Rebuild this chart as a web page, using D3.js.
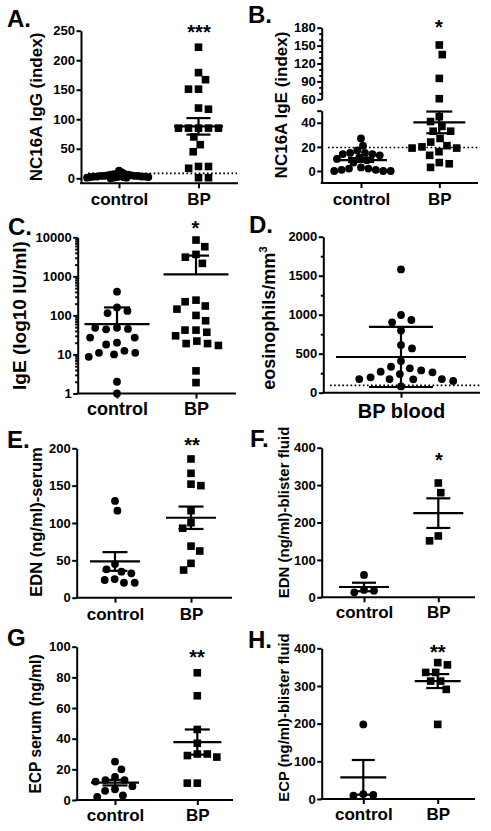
<!DOCTYPE html>
<html><head><meta charset="utf-8">
<script src="https://cdn.jsdelivr.net/npm/d3@7/dist/d3.min.js"></script>
<style>html,body{margin:0;padding:0;background:#fff}</style>
</head><body>
<svg id="chart" width="491" height="831"></svg>
<script>
// ---------------- DATA ----------------
const A_categories = ["control", "BP"];
const A_control = [13, 10, 8, 7, 7, 6, 6, 5, 5, 5, 4, 4, 4, 4, 3, 3, 3, 3, 2, 2, 2, 2, 1, 1, 1, 0];
const A_bp = [222, 179, 167, 151, 151, 119, 117, 85, 85, 85, 85, 85, 70, 57, 45, 20, 20, 17, 1, 1];
const A_means = [4.3, 88];
const A_errors = [0.6, 14];
const A_ticks = [0, 50, 100, 150, 200, 250];
const A_cutoff = 8.5;
const A_sig = "***";

const B_categories = ["control", "BP"];
const B_control = [27, 21, 17, 15, 15, 14, 14, 13, 11, 10, 9, 7, 3, 2, 2, 1, 1, 0, 0, 0];
const B_bp = [151, 135, 95, 61, 45, 41, 37, 33, 33, 27, 24, 21, 20, 19, 19, 16, 13, 7, 6, 3];
const B_means = [9.1, 40.3];
const B_errors = [1.6, 9];
const B_ticksLow = [0, 20, 40, 50];
const B_ticksHigh = [60, 90, 120, 150, 180];
const B_minorHigh = [70, 80, 100, 110, 130, 140, 160, 170];
const B_cutoff = 19.5;
const B_sig = "*";

const C_categories = ["control", "BP"];
const C_control = [405, 160, 130, 115, 48, 45, 44, 48, 27, 27, 20, 18, 12.4, 11, 11, 10, 8.7, 2, 1];
const C_bp = [8500, 5750, 3650, 3100, 2150, 246, 224, 174, 145, 100, 73, 42, 42, 37, 30, 22, 19, 19, 17, 3.8, 1.9];
const C_means = [60, 1125];
const C_errors = [100, 2275];
const C_ticks = [1, 10, 100, 1000, 10000];
const C_sig = "*";

const D_categories = ["BP blood"];
const D_bp = [1581, 996, 932, 902, 799, 611, 568, 406, 333, 312, 286, 269, 261, 239, 197, 175, 175, 175, 171, 150, 81];
const D_means = [458];
const D_errors = [385];
const D_ticks = [0, 500, 1000, 1500, 2000];
const D_minor = [250, 750, 1250, 1750];
const D_cutoff = 95;

const E_categories = ["control", "BP"];
const E_control = [129.5, 116.5, 45, 38, 34.8, 32.6, 25, 23.7, 20, 20];
const E_bp = [185.7, 166.5, 152, 150, 116.5, 100.4, 93, 69, 62.5, 46, 37];
const E_means = [48.5, 107];
const E_errors = [12.5, 15];
const E_ticks = [0, 50, 100, 150, 200];
const E_sig = "**";

const F_categories = ["control", "BP"];
const F_control = [59.7, 19.6, 17.8, 13.4];
const F_bp = [305.6, 279.7, 164, 151];
const F_means = [27.6, 225];
const F_errors = [11.4, 39.6];
const F_ticks = [0, 100, 200, 300, 400];
const F_sig = "*";

const G_categories = ["control", "BP"];
const G_control = [25, 20, 15, 13, 13, 12, 9, 7, 6, 3, 2];
const G_bp = [83, 68, 46, 37, 30, 30, 29, 28, 11, 11];
const G_means = [11.3, 37.8];
const G_errors = [1.8, 8.2];
const G_ticks = [0, 20, 40, 60, 80, 100];
const G_sig = "**";

const H_categories = ["control", "BP"];
const H_control = [198, 13, 10.6, 9];
const H_bp = [362, 356, 336, 336, 313, 313, 291, 198];
const H_means = [57.5, 313];
const H_errors = [46, 18.5];
const H_ticks = [0, 100, 200, 300, 400];
const H_sig = "**";

// ---------------- DRAWING ----------------
const FONT = "'Liberation Sans', Arial, Helvetica, sans-serif";
const svg = d3.select("#chart").style("font-family", FONT);

function swarm(values, yFn, minDist) {
  const placed = [];
  let toggle = 1;
  return values.map(v => {
    const py = yFn(v);
    const blocks = [];
    placed.forEach(p => {
      const dy = Math.abs(p.y - py);
      if (dy < minDist) {
        const w = Math.sqrt(minDist * minDist - dy * dy);
        blocks.push([p.x - w, p.x + w]);
      }
    });
    const cands = [0];
    blocks.forEach(b => cands.push(b[0], b[1]));
    const free = cands.filter(c => blocks.every(b => c <= b[0] + 1e-6 || c >= b[1] - 1e-6));
    free.sort((a, b) => (Math.abs(a) - Math.abs(b)) || (toggle * (b - a)));
    const x = free[0];
    if (Math.abs(x) > 1e-6) toggle = x > 0 ? -1 : 1;
    const pt = {v: v, x: x, y: py};
    placed.push(pt);
    return pt;
  });
}

function styleAxis(sel, fontSize) {
  sel.select(".domain").attr("stroke", "#000").attr("stroke-width", 2);
  sel.selectAll(".tick line").attr("stroke", "#000").attr("stroke-width", 2);
  sel.selectAll(".tick text").attr("fill", "#000").attr("font-size", fontSize)
     .attr("font-weight", "bold").attr("font-family", FONT);
  sel.attr("font-family", FONT);
}

function drawPanel(p) {
  const g = svg.append("g");
  // y axis segments
  p.yAxes.forEach(ax => {
    const axis = d3.axisLeft(ax.scale).tickValues(ax.ticks).tickSize(4.5).tickSizeOuter(0)
      .tickPadding(1.5).tickFormat(ax.format || (d => d));
    const ag = g.append("g").attr("transform", `translate(${p.axisX},0)`).call(axis);
    styleAxis(ag, 13);
    if (ax.minor) {
      const mg = g.append("g").attr("transform", `translate(${p.axisX},0)`)
        .call(d3.axisLeft(ax.scale).tickValues(ax.minor).tickSize(2.5).tickSizeOuter(0).tickFormat(""));
      styleAxis(mg, 13);
      mg.select(".domain").remove();
    }
  });
  // x axis
  const xs = d3.scaleOrdinal(p.categories, p.centers);
  g.append("line").attr("x1", p.axisX - 1).attr("x2", p.axisRight)
    .attr("y1", p.xAxisY).attr("y2", p.xAxisY).attr("stroke", "#000").attr("stroke-width", 2);
  const xg = g.append("g").attr("transform", `translate(0,${p.xAxisY})`)
    .call(d3.axisBottom(xs).tickSize(5).tickSizeOuter(0));
  xg.select(".domain").remove();
  styleAxis(xg, p.catSize);
  xg.selectAll(".tick text").attr("y", p.catY - p.xAxisY).attr("dy", 0);

  // cutoff line
  if (p.cutoff !== undefined) {
    g.append("line").attr("x1", p.cutX[0]).attr("x2", p.cutX[1])
      .attr("y1", p.y(p.cutoff)).attr("y2", p.y(p.cutoff))
      .attr("stroke", "#000").attr("stroke-width", 1.7).attr("stroke-dasharray", "1.7,2.4");
  }

  // points
  p.groups.forEach((grp, i) => {
    const cx = xs(p.categories[i]);
    const pts = swarm(grp.values, p.y, grp.minDist);
    if (grp.shape === "square") {
      g.selectAll(null).data(pts).enter().append("rect")
        .attr("x", d => cx + d.x - 3.8).attr("y", d => d.y - 3.8)
        .attr("width", 7.6).attr("height", 7.6).attr("fill", "#000");
    } else {
      g.selectAll(null).data(pts).enter().append("circle")
        .attr("cx", d => cx + d.x).attr("cy", d => d.y).attr("r", 3.9).attr("fill", "#000");
    }
  });

  // mean and error bars
  p.means.forEach((m, i) => {
    const cx = xs(p.categories[i]);
    const ym = p.y(m);
    const hi = m + p.errors[i], lo = m - p.errors[i];
    const yHi = p.y(hi);
    const loOk = !(p.log && lo <= 0);
    const yLo = loOk ? p.y(lo) : ym;
    const line = (x1, y1, x2, y2) => g.append("line").attr("x1", x1).attr("y1", y1)
      .attr("x2", x2).attr("y2", y2).attr("stroke", "#000").attr("stroke-width", 2.2);
    line(cx - p.meanHalf, ym, cx + p.meanHalf, ym);
    line(cx, yHi, cx, yLo);
    line(cx - p.whiskHalf, yHi, cx + p.whiskHalf, yHi);
    if (loOk) line(cx - p.whiskHalf, yLo, cx + p.whiskHalf, yLo);
  });

  // y title
  const t = g.append("text").attr("x", p.titleX).attr("y", p.titleY)
    .attr("transform", `rotate(-90,${p.titleX},${p.titleY})`)
    .attr("text-anchor", "middle").attr("font-size", p.titleSize).attr("font-weight", "bold")
    .attr("fill", "#000").text(p.title);
  if (p.titleSup) {
    t.append("tspan").attr("dy", -p.titleSize * 0.45).attr("font-size", p.titleSize * 0.65).text(p.titleSup);
  }
  // letter
  g.append("text").attr("x", p.letterPos[0]).attr("y", p.letterPos[1]).attr("font-size", 24)
    .attr("font-weight", "bold").attr("fill", "#000").text(p.letter);
  // significance
  if (p.sig) {
    g.append("text").attr("x", p.sigPos[0]).attr("y", p.sigPos[1]).attr("text-anchor", "middle")
      .attr("font-size", 20).attr("font-weight", "bold").attr("fill", "#000").text(p.sig);
  }
}

function linPanelScale(domain, range, xAxisY) {
  const y = d3.scaleLinear(domain, range);
  const axisScale = y.copy().domain([y.invert(xAxisY), domain[1]]).range([xAxisY, range[1]]);
  return {y, axisScale};
}

// Panel A
(() => {
  const s = linPanelScale([0, 250], [178.3, 30.7], 183.3);
  drawPanel({
    letter: "A.", letterPos: [7, 27], axisX: 81, axisRight: 238, xAxisY: 183.3,
    y: s.y, yAxes: [{scale: s.axisScale, ticks: A_ticks}],
    categories: A_categories, centers: [119, 198.5], catSize: 17, catY: 205,
    groups: [{values: A_control, shape: "circle", minDist: 3.4}, {values: A_bp, shape: "square", minDist: 10}],
    means: A_means, errors: A_errors, meanHalf: 24.5, whiskHalf: 12,
    title: "NC16A IgG (index)", titleX: 42, titleY: 107, titleSize: 17,
    sig: A_sig, sigPos: [199, 39.4], cutoff: A_cutoff, cutX: [88, 237]
  });
})();

// Panel B (broken axis)
(() => {
  const lower = d3.scaleLinear([0, 50], [171, 110.7]);
  const upper = d3.scaleLinear([60, 180], [99.3, 27.7]);
  const lowerAxis = lower.copy().domain([lower.invert(183), 50]).range([183, 110.7]);
  const y = v => (v > 55 ? upper(v) : lower(v));
  drawPanel({
    letter: "B.", letterPos: [248, 23], axisX: 321.7, axisRight: 478, xAxisY: 183,
    y: y, yAxes: [
      {scale: lowerAxis, ticks: B_ticksLow, format: d => (d === 50 ? "" : d)},
      {scale: upper, ticks: B_ticksHigh, minor: B_minorHigh}
    ],
    categories: B_categories, centers: [361, 439.3], catSize: 17, catY: 205,
    groups: [{values: B_control, shape: "circle", minDist: 7.5}, {values: B_bp, shape: "square", minDist: 10}],
    means: B_means, errors: B_errors, meanHalf: 26, whiskHalf: 13,
    title: "NC16A IgE (index)", titleX: 287, titleY: 105, titleSize: 17,
    sig: B_sig, sigPos: [439, 33.5], cutoff: B_cutoff, cutX: [328, 480]
  });
})();

// Panel C (log)
(() => {
  const y = d3.scaleLog([1, 10000], [393.5, 237.3]);
  const minor = [];
  for (let dec = 1; dec < 10000; dec *= 10) for (let k = 2; k <= 9; k++) minor.push(dec * k);
  drawPanel({
    letter: "C.", letterPos: [8, 235], axisX: 77.7, axisRight: 236, xAxisY: 393.5,
    y: y, log: true, yAxes: [{scale: y, ticks: C_ticks, minor: minor, format: d3.format("d")}],
    categories: C_categories, centers: [117, 196], catSize: 18, catY: 414.5,
    groups: [{values: C_control, shape: "circle", minDist: 11}, {values: C_bp, shape: "square", minDist: 11}],
    means: C_means, errors: C_errors, meanHalf: 32.5, whiskHalf: 13,
    title: "IgE (log10 IU/ml)", titleX: 26, titleY: 315.5, titleSize: 19,
    sig: C_sig, sigPos: [195.5, 234.5]
  });
})();

// Panel D
(() => {
  const y = d3.scaleLinear([0, 2000], [392.7, 236.7]);
  drawPanel({
    letter: "D.", letterPos: [249, 233], axisX: 323.3, axisRight: 480, xAxisY: 392.7,
    y: y, yAxes: [{scale: y, ticks: D_ticks, minor: D_minor}],
    categories: D_categories, centers: [401], catSize: 20, catY: 418,
    groups: [{values: D_bp, shape: "circle", minDist: 11.5}],
    means: D_means, errors: D_errors, meanHalf: 65, whiskHalf: 32,
    title: "eosinophils/mm", titleSup: "3", titleX: 275, titleY: 318, titleSize: 18,
    cutoff: D_cutoff, cutX: [330, 480]
  });
})();

// Panel E
(() => {
  const y = d3.scaleLinear([0, 200], [597.7, 448.3]);
  drawPanel({
    letter: "E.", letterPos: [7, 448], axisX: 76.7, axisRight: 232, xAxisY: 597.7,
    y: y, yAxes: [{scale: y, ticks: E_ticks}],
    categories: E_categories, centers: [115, 191], catSize: 17, catY: 620,
    groups: [{values: E_control, shape: "circle", minDist: 10}, {values: E_bp, shape: "square", minDist: 10}],
    means: E_means, errors: E_errors, meanHalf: 25, whiskHalf: 12.5,
    title: "EDN (ng/ml)-serum", titleX: 41.5, titleY: 522, titleSize: 16.5,
    sig: E_sig, sigPos: [192, 452]
  });
})();

// Panel F
(() => {
  const y = d3.scaleLinear([0, 400], [597.3, 447.7]);
  drawPanel({
    letter: "F.", letterPos: [250, 447], axisX: 321.7, axisRight: 475, xAxisY: 597.3,
    y: y, yAxes: [{scale: y, ticks: F_ticks}],
    categories: F_categories, centers: [364, 438.3], catSize: 17, catY: 618,
    groups: [{values: F_control, shape: "circle", minDist: 10}, {values: F_bp, shape: "square", minDist: 10}],
    means: F_means, errors: F_errors, meanHalf: 25, whiskHalf: 12,
    title: "EDN (ng/ml)-blister fluid", titleX: 289, titleY: 512.5, titleSize: 15,
    sig: F_sig, sigPos: [439, 467]
  });
})();

// Panel G
(() => {
  const y = d3.scaleLinear([0, 100], [800, 646.7]);
  drawPanel({
    letter: "G", letterPos: [7, 646], axisX: 76.7, axisRight: 233, xAxisY: 800,
    y: y, yAxes: [{scale: y, ticks: G_ticks}],
    categories: G_categories, centers: [115, 197.3], catSize: 17, catY: 821,
    groups: [{values: G_control, shape: "circle", minDist: 10}, {values: G_bp, shape: "square", minDist: 10}],
    means: G_means, errors: G_errors, meanHalf: 24, whiskHalf: 12.5,
    title: "ECP serum (ng/ml)", titleX: 40.5, titleY: 724, titleSize: 15.6,
    sig: G_sig, sigPos: [197, 663.5]
  });
})();

// Panel H
(() => {
  const y = d3.scaleLinear([0, 400], [799, 648.3]);
  drawPanel({
    letter: "H.", letterPos: [248, 648], axisX: 321.7, axisRight: 475, xAxisY: 799,
    y: y, yAxes: [{scale: y, ticks: H_ticks}],
    categories: H_categories, centers: [363.3, 437.7], catSize: 17, catY: 820,
    groups: [{values: H_control, shape: "circle", minDist: 10}, {values: H_bp, shape: "square", minDist: 10}],
    means: H_means, errors: H_errors, meanHalf: 23, whiskHalf: 11.5,
    title: "ECP (ng/ml)-blister fluid", titleX: 289, titleY: 717.5, titleSize: 14.8,
    sig: H_sig, sigPos: [437.7, 658.5]
  });
})();
</script>
</body></html>
